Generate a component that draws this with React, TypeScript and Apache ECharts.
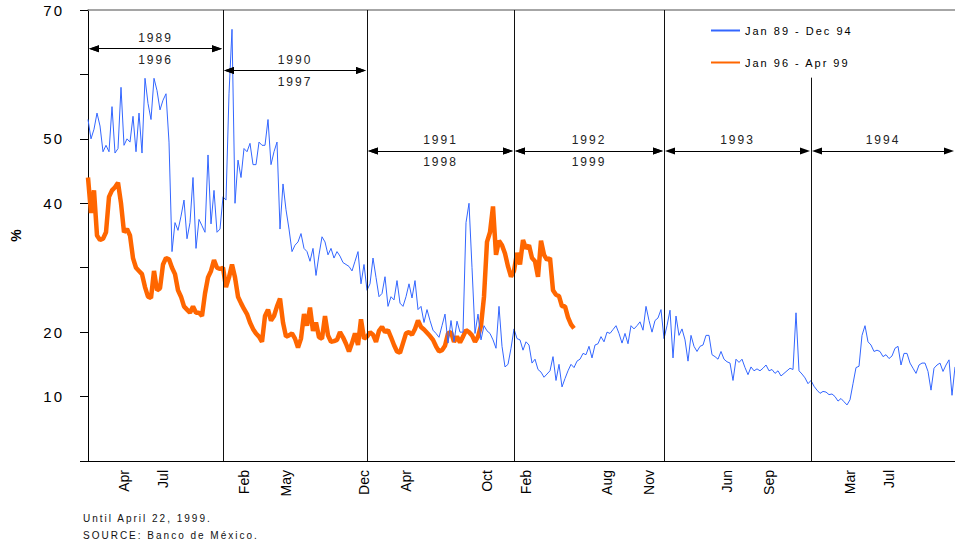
import React, { useEffect, useRef } from "react";
import * as echarts from "echarts";

// Blue: Jan 89 - Dec 94 (sampled trading days)
const blueValues: number[] = [
  53, 50, 51.5, 54, 52, 48, 49, 48, 55, 47.8,
  48.5, 58, 49, 50, 49.5, 53.5, 48, 54, 47.8, 59.4,
  55.5, 53, 59.4, 57.5, 54.5, 56, 57, 49.5, 32.5, 37,
  35.8, 38, 40.5, 34.5, 37, 44, 33, 37.5, 36.5, 35.5,
  47.5, 36.8, 42, 35.5, 36, 41, 40.5, 57, 67, 40,
  46.7, 44, 48.5, 48, 49.3, 46, 46, 49.5, 49, 49,
  53, 46, 48, 49.5, 36, 43, 39, 36, 32.5, 33.5,
  34, 35.3, 33, 32.5, 31, 33, 28.8, 32, 34.8, 34,
  32, 33, 31.5, 32.5, 31.8, 30.8, 30.5, 30.2, 29.5, 31,
  32.5, 27.5, 30.5, 26.5, 27.5, 31.5, 28.5, 25.5, 26, 28.6,
  24, 25.5, 25, 28, 24.5, 24, 25.5, 27.5, 25.3, 28,
  23.5, 24, 21.5, 23.5, 21.8, 20.3, 19.8, 19.2, 21, 22.8,
  18.3, 21.8, 18.5, 21.7, 20, 20, 37, 40, 30, 19.8,
  22.8, 18.8, 21, 20.2, 19.8, 18.8, 17.5, 24, 17.8, 14.6,
  15, 17.5, 20.5, 19, 18.8, 17.2, 18.5, 18, 15.2, 15.8,
  14.2, 13.8, 13, 13.5, 14, 16.2, 12.5, 15, 11.5, 12.8,
  14, 15, 14.5, 15.5, 15.8, 16.7, 16.5, 17.8, 16, 18,
  18.2, 19.3, 18.5, 20, 19.8, 20.4, 21, 19.8, 18.3, 19.8,
  18.2, 21, 20.5, 21, 21.6, 20.3, 24, 21.8, 20, 21.8,
  22.2, 23.5, 19, 21, 23.4, 16, 22.5, 19.5, 20.5, 18.8,
  15.5, 19.5, 17.8, 17, 17.8, 18, 19.5, 19.5, 16.5, 16.2,
  15.8, 17, 15.8, 15.4, 15.2, 12.5, 15.8, 15.3, 15.8, 14.5,
  13.4, 14.6, 14, 14.3, 14, 14.4, 14.9, 14, 14.2, 13.6,
  14, 13.2, 13.6, 14, 14.4, 14.2, 23, 14, 13.5, 12.9,
  12, 12.5, 11.6, 11, 10.5, 10.8, 10.7, 10.3, 10.4, 10,
  9.3, 9.7, 9.2, 8.7, 9.5, 12, 14.5, 14.7, 19.5, 21,
  18.5, 18, 17, 17.2, 17, 16.2, 16.5, 15.9, 16.3, 17.5,
  17.8, 14.9, 16.7, 16.7, 15.2, 14.4, 13.6, 14.9, 15.2, 15.2,
  13.9, 11, 14.4, 14.9, 15.2, 13.9, 14.9, 15.7, 10.2, 14.6,
];

// Orange: Jan 96 - Apr 99 (same day spacing, ends April 22, 1999)
const orangeValues: number[] = [
  44, 38.5, 42, 35, 34.3, 34.5, 35.5, 41, 42, 42.5,
  43.2, 40, 35.5, 36, 35, 31.5, 30, 29.5, 29, 27,
  25.5, 25.3, 29.5, 26.5, 26.8, 30.5, 31.5, 31.3, 30, 29,
  26.5, 25.5, 24, 23.5, 23, 24, 23, 23, 22.5, 26,
  28.5, 29.5, 31.2, 30, 29.8, 30, 27, 28.5, 30.5, 28.5,
  25.5, 24.5, 23.6, 22.8, 21.5, 20.5, 19.8, 19.3, 18.5, 22.5,
  23.5, 21.8, 22.5, 24, 25.2, 21.5, 19.3, 19.5, 19.8, 19,
  17.6, 19, 22.8, 21, 23.8, 20.2, 21.5, 19.2, 19, 22.5,
  19.5, 18.5, 18.6, 18.8, 20, 19.2, 18.2, 17, 18.3, 19.8,
  18, 22, 19, 19.3, 20, 19.6, 18.5, 20.2, 20.8, 20,
  20.3, 19.2, 18, 17, 16.8, 18.3, 19.8, 20, 19.6, 20.5,
  21.8, 20.8, 20.4, 19.9, 19.4, 18.8, 17.8, 17, 17.2, 17.9,
  19.8, 20, 18.5, 19.3, 18.4, 19.3, 20.3, 20, 19.5, 18.5,
  19.3, 21, 25.5, 34, 35.5, 39.5, 32, 34.2, 33.5, 32.2,
  30.2, 28.6, 29.5, 32.3, 30.5, 34.3, 33, 33.5, 31.5, 31,
  28.6, 34.2, 32, 31.2, 31.5, 26.5, 25.8, 25.6, 24, 24,
  22.3, 21.2, 20.6,
];

const monthLabels = ["Apr", "Jul", "Feb", "May", "Dec", "Apr", "Oct", "Feb", "Aug", "Nov", "Jun", "Sep", "Mar", "Jul"];
const monthIdx = [12, 25, 52, 66, 92, 106, 133, 146, 173, 187, 213, 227, 254, 267];
const yearIdx = [0, 45, 93, 142, 192, 241, 289];
const yearTop = ["1989", "1990", "1991", "1992", "1993", "1994"];
const yearBottom = ["1996", "1997", "1998", "1999", "", ""];
const arrowLevel = [64, 60.6, 48.1, 48.1, 48.1, 48.1];
const lineTop = [70, 70, 70, 70, 59.5];
const yLabels = [10, 20, 40, 50, 70];
const footerLines = ["Until April 22, 1999.", "SOURCE: Banco de México."];

const FONT = "'Liberation Sans', Arial, sans-serif";
const PLOT_W = 867;
const ARROW_LEN = 10;

export default function App() {
  const ref = useRef<HTMLDivElement>(null);
  useEffect(() => {
    if (!ref.current) return;
    const chart = echarts.init(ref.current, undefined, { renderer: "svg" });
    const cats = blueValues.map((_, i) => String(i));
    const labelMap: Record<number, string> = {};
    monthIdx.forEach((idx, k) => (labelMap[idx] = monthLabels[k]));

    // arrow heads are centred on the line ends: pull the ends in by half a head
    const inset = (ARROW_LEN / 2) / (PLOT_W / (cats.length - 1));

    const verticalLines = yearIdx.slice(1, 6).map((idx, k) => [
      { coord: [cats[idx], 0] },
      { coord: [cats[idx], lineTop[k]] },
    ]);

    const arrows: any[] = [];
    for (let k = 0; k < 6; k++) {
      const a = yearIdx[k] + inset;
      const b = yearIdx[k + 1] - inset;
      const lvl = arrowLevel[k];
      arrows.push([
        { coord: [a, lvl], label: { show: true, position: "insideMiddleTop", formatter: yearTop[k] } },
        { coord: [b, lvl] },
      ]);
      if (yearBottom[k]) {
        arrows.push([
          { coord: [a, lvl], label: { show: true, position: "insideMiddleBottom", formatter: yearBottom[k] } },
          { coord: [b, lvl] },
        ]);
      }
    }

    chart.setOption({
      animation: false,
      textStyle: { fontFamily: FONT },
      grid: { left: 88, right: 0, top: 10, bottom: 82, containLabel: false, outerBoundsMode: "none" },
      legend: {
        orient: "vertical",
        left: 710,
        top: 25,
        padding: 0,
        itemWidth: 29,
        itemHeight: 10,
        itemGap: 21,
        itemStyle: { opacity: 0 },
        textStyle: { fontSize: 11, color: "#000", fontFamily: FONT },
        data: ["Jan 89 - Dec 94", "Jan 96 - Apr 99"],
      },
      xAxis: [
        {
          type: "category",
          data: cats,
          boundaryGap: false,
          axisLine: { lineStyle: { color: "#000", width: 1 } },
          axisTick: { show: false },
          splitLine: { show: false },
          axisLabel: {
            interval: (i: number) => labelMap[i] !== undefined,
            formatter: (_v: string, i: number) => labelMap[i] ?? "",
            rotate: 90,
            fontSize: 14,
            color: "#000",
            margin: 9,
            fontFamily: FONT,
          },
        },
        {
          type: "category",
          data: cats,
          boundaryGap: false,
          position: "top",
          axisLine: { lineStyle: { color: "#888", width: 1.5 } },
          axisTick: { show: false },
          axisLabel: { show: false },
          splitLine: { show: false },
        },
      ],
      yAxis: {
        type: "value",
        min: 0,
        max: 70,
        interval: 10,
        name: "%",
        nameLocation: "middle",
        nameGap: 65,
        nameRotate: 90,
        nameTextStyle: { fontWeight: "bold", fontSize: 14, color: "#000", fontFamily: FONT },
        axisLine: { show: true, lineStyle: { color: "#000" } },
        axisTick: { show: true, length: 8, lineStyle: { color: "#000" } },
        splitLine: { show: false },
        axisLabel: {
          formatter: (v: number) => (yLabels.includes(v) ? String(v) : ""),
          fontSize: 15,
          color: "#000",
          margin: 24,
          fontFamily: FONT,
        },
      },
      series: [
        {
          name: "Jan 96 - Apr 99",
          type: "line",
          data: orangeValues,
          symbol: "none",
          showSymbol: false,
          lineStyle: { color: "#FF6600", width: 4.5 },
          itemStyle: { color: "#FF6600" },
          z: 2,
          markLine: {
            silent: true,
            symbol: ["triangle", "triangle"],
            symbolSize: [7, ARROW_LEN],
            lineStyle: { color: "#000", width: 1, type: "solid" },
            itemStyle: { color: "#000" },
            label: { color: "#222", fontSize: 12, fontFamily: FONT, distance: 5 },
            data: arrows,
          },
        },
        {
          name: "Jan 89 - Dec 94",
          type: "line",
          data: blueValues,
          symbol: "none",
          showSymbol: false,
          lineStyle: { color: "#3366FF", width: 1 },
          itemStyle: { color: "#3366FF" },
          z: 3,
          markLine: {
            silent: true,
            symbol: ["none", "none"],
            lineStyle: { color: "#111", width: 1, type: "solid" },
            label: { show: false },
            data: verticalLines,
          },
        },
      ],
      graphic: footerLines.map((t, k) => ({
        type: "text",
        left: 83,
        top: 513 + k * 17,
        style: { text: t, fill: "#111", font: `10px ${FONT}` },
      })),
    });

    // widen character spacing of the annotation texts like the original
    const spaced = (root: HTMLElement) => {
      root.querySelectorAll("text").forEach((el) => {
        const s = (el.textContent || "").trim();
        if (!s || monthLabels.includes(s) || s === "%") return;
        (el as SVGTextElement).style.letterSpacing = "2px";
      });
    };
    spaced(ref.current);
    const onFinished = () => ref.current && spaced(ref.current);
    chart.on("finished", onFinished);
    return () => chart.dispose();
  }, []);
  return (
    <div
      ref={ref}
      style={{ position: "absolute", left: 0, top: 0, width: 955, height: 543, background: "#fff" }}
    />
  );
}
